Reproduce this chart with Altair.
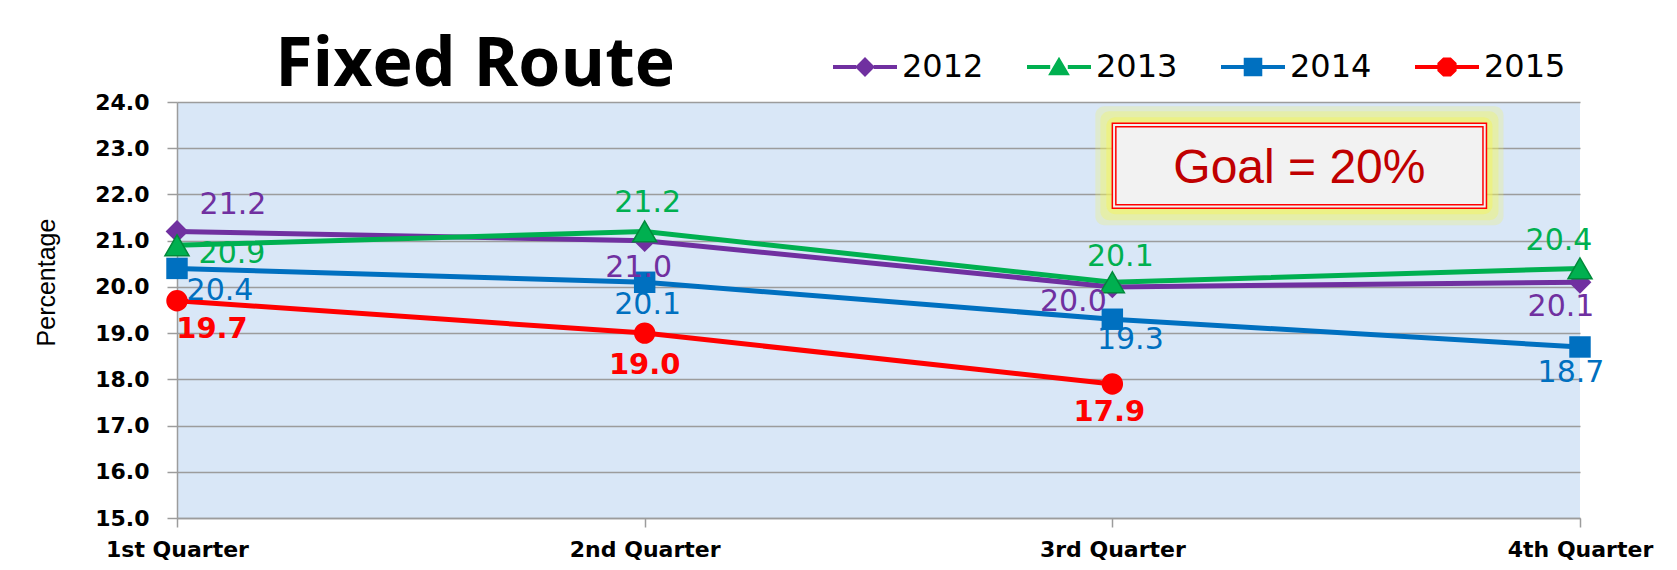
import altair as alt
import pandas as pd

# ---------------- data ----------------
quarters = ["1st Quarter", "2nd Quarter", "3rd Quarter", "4th Quarter"]
years = ["2012", "2013", "2014", "2015"]
values_2012 = [21.2, 21.0, 20.0, 20.1]
values_2013 = [20.9, 21.2, 20.1, 20.4]
values_2014 = [20.4, 20.1, 19.3, 18.7]
values_2015 = [19.7, 19.0, 17.9]
y_ticks = [15.0, 16.0, 17.0, 18.0, 19.0, 20.0, 21.0, 22.0, 23.0, 24.0]
title_text = "Fixed Route"
goal_text = "Goal = 20%"
y_title = "Percentage"

series_values = {"2012": values_2012, "2013": values_2013,
                 "2014": values_2014, "2015": values_2015}

# ---------------- styles ----------------
colors = ["#7030A0", "#00B050", "#0070C0", "#FF0000"]
shapes = ["diamond", "triangle-up", "square", "circle"]
point_sizes = [520, 580, 460, 460]
strokes = [None, "#008A3A", None, None]
GRAY = "#9C9C9C"
W, H = 1403, 416

# label offsets (dx, dy) in pixels, per series / quarter
label_dx = {"2012": [56, -6, -39, -19], "2013": [55, 3, 8, -21],
            "2014": [43, 3, 18, -9], "2015": [35, 0, -3]}
label_dy = {"2012": [-26, 27, 15, 25], "2013": [9, -28, -25, -27],
            "2014": [23, 23, 21, 26], "2015": [28, 32, 28]}

# legend symbol paths (line through marker)
bar_l = "M-1,-0.13L0.45,-0.13L0.45,0.13L-1,0.13Z"
bar_r = "M1.55,-0.13L3,-0.13L3,0.13L1.55,0.13Z"
legend_paths = [
    bar_l + bar_r + "M1,-0.62L1.62,0L1,0.62L0.38,0Z",
    bar_l + bar_r + "M1,-0.64L1.68,0.52L0.32,0.52Z",
    bar_l + bar_r + "M0.42,-0.58L1.58,-0.58L1.58,0.58L0.42,0.58Z",
    bar_l + bar_r + "M0.76,-0.6L1.24,-0.6L1.6,-0.25L1.6,0.25L1.24,0.6L0.76,0.6L0.4,0.25L0.4,-0.25Z",
]

rows = []
for yr in years:
    for qi, v in enumerate(series_values[yr]):
        rows.append({"year": yr, "qi": qi, "value": v})
df = pd.DataFrame(rows)

label_expr = "[" + ",".join(f"'{q}'" for q in quarters) + "][datum.value]"

x_scale = alt.Scale(domain=[0, len(quarters) - 1], nice=False, zero=False)
y_scale = alt.Scale(domain=[y_ticks[0], y_ticks[-1]], nice=False, zero=False)
x_axis = alt.Axis(values=list(range(len(quarters))), labelExpr=label_expr, title=None,
                  grid=False, domainColor=GRAY, domainWidth=1.5, tickColor=GRAY,
                  tickWidth=1.5, tickSize=9, labelFont="DejaVu Sans",
                  labelFontWeight="bold", labelFontSize=22, labelColor="black",
                  labelPadding=12, labelFlush=False)
y_axis = alt.Axis(values=y_ticks, format=".1f", title=y_title, grid=True,
                  gridColor=GRAY, gridWidth=1.5, domainColor=GRAY, domainWidth=1.5,
                  tickColor=GRAY, tickWidth=1.5, tickSize=10, labelFont="DejaVu Sans",
                  labelFontWeight="bold", labelFontSize=22, labelColor="black",
                  labelPadding=18, titleFont="Liberation Sans", titleFontSize=25,
                  titleFontWeight="normal", titleColor="black", titleAngle=270,
                  titleX=-131, titleY=180, titleAlign="center", titleBaseline="middle")


def X(f):
    return alt.X(f, scale=x_scale, axis=x_axis)


def Y(f):
    return alt.Y(f, scale=y_scale, axis=y_axis)


base = alt.Chart(df)

lines = base.mark_line(strokeWidth=5).encode(
    x=X("qi:Q"), y=Y("value:Q"),
    stroke=alt.Stroke("year:N", scale=alt.Scale(domain=years, range=colors), legend=None),
    order="qi:Q",
)

legend = alt.Legend(
    title=None, orient="none", legendX=656, legendY=-51, direction="horizontal",
    symbolSize=1024, symbolStrokeWidth=0, symbolOpacity=1,
    labelFont="DejaVu Sans", labelFontSize=32, labelColor="black",
    labelOffset=37, columnPadding=43, padding=0,
)

# legend-carrying layer (its own marks are fully transparent)
legend_layer = base.mark_point(filled=True, opacity=0).encode(
    x=X("qi:Q"), y=Y("value:Q"),
    color=alt.Color("year:N", scale=alt.Scale(domain=years, range=colors), legend=legend),
    shape=alt.Shape("year:N", scale=alt.Scale(domain=years, range=legend_paths), legend=legend),
)

point_layers = []
for si, yr in enumerate(years):
    kw = dict(shape=shapes[si], filled=True, color=colors[si], size=point_sizes[si], opacity=1)
    if strokes[si]:
        kw.update(stroke=strokes[si], strokeWidth=1.5)
    point_layers.append(
        base.transform_filter(alt.datum.year == yr).mark_point(**kw).encode(
            x=X("qi:Q"), y=Y("value:Q")))

# Goal box (data coordinates)
gx0, gx1, gy0, gy1 = 2.0, 2.8, 21.7, 23.54
px_x = W / (len(quarters) - 1)
px_y = H / (y_ticks[-1] - y_ticks[0])


def box(pad_px):
    return pd.DataFrame({"x0": [gx0 - pad_px / px_x], "x1": [gx1 + pad_px / px_x],
                         "y0": [gy0 - pad_px / px_y], "y1": [gy1 + pad_px / px_y]})


glow_layers = []
for pad, op in [(17, 0.25), (12, 0.32), (6, 0.45)]:
    glow_layers.append(
        alt.Chart(box(pad)).mark_rect(color="#F4F55A", opacity=op, cornerRadius=9).encode(
            x=X("x0:Q"), x2="x1:Q", y=Y("y0:Q"), y2="y1:Q"))

goal_outer = alt.Chart(box(0)).mark_rect(fill="#F2F2F2", stroke="#FF0000", strokeWidth=1.5).encode(
    x=X("x0:Q"), x2="x1:Q", y=Y("y0:Q"), y2="y1:Q")
goal_inner = alt.Chart(box(-3.5)).mark_rect(fillOpacity=0, stroke="#FF0000", strokeWidth=1.5).encode(
    x=X("x0:Q"), x2="x1:Q", y=Y("y0:Q"), y2="y1:Q")
goal_label = alt.Chart(pd.DataFrame({"x": [(gx0 + gx1) / 2], "y": [22.24], "t": [goal_text]})).mark_text(
    font="Liberation Sans", fontSize=48, color="#C00000", align="center", baseline="alphabetic"
).encode(x=X("x:Q"), y=Y("y:Q"), text="t:N")

# value labels
label_layers = []
for si, yr in enumerate(years):
    bold = yr == "2015"
    for qi, v in enumerate(series_values[yr]):
        ldf = pd.DataFrame({"qi": [qi], "value": [v], "lab": [f"{v:.1f}"]})
        label_layers.append(
            alt.Chart(ldf).mark_text(
                font="DejaVu Sans", fontSize=29 if bold else 30,
                fontWeight="bold" if bold else "normal", color=colors[si],
                align="center", baseline="middle",
                dx=label_dx[yr][qi], dy=label_dy[yr][qi],
            ).encode(x=X("qi:Q"), y=Y("value:Q"), text="lab:N"))

title = alt.Chart(pd.DataFrame({"t": [title_text]})).mark_text(
    font="Open Sans", fontSize=68, fontWeight="bold", color="black",
    align="center", baseline="alphabetic"
).encode(x=alt.value(298), y=alt.value(-16), text="t:N")

chart = alt.layer(
    *glow_layers, goal_outer, goal_inner, goal_label,
    legend_layer, lines, *point_layers, *label_layers, title
).properties(
    width=W, height=H,
    autosize=alt.AutoSizeParams(type="none"),
    padding={"left": 169, "top": 94, "right": 89, "bottom": 44},
    background="white",
).configure_view(fill="#D9E7F7", stroke=None)

chart.save("out.html", embed_options={"renderer": "svg", "actions": False})
